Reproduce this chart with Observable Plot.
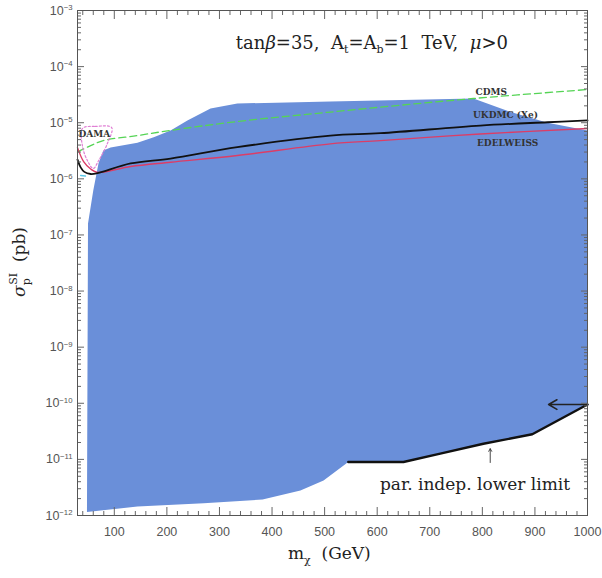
<!DOCTYPE html>
<html><head><meta charset="utf-8">
<script src="https://cdn.jsdelivr.net/npm/d3@7"></script>
<script src="https://cdn.jsdelivr.net/npm/@observablehq/plot@0.6"></script>
<style>body{margin:0;background:#fff} #chart{width:602px;height:578px}</style>
</head><body><div id="chart"></div>
<script>
// Allowed region (blue): upper boundary, lower boundary
const upperMass  = [48, 50, 60, 70, 79, 93, 144, 175, 207, 239, 283, 334, 511, 783, 859, 924, 1000];
const upperSigma = [1.15e-12, 1.6e-7, 6.2e-7, 1.9e-6, 3.2e-6, 3.6e-6, 4.4e-6, 5.5e-6, 7.3e-6, 1.1e-5, 1.8e-5, 2.2e-5, 2.4e-5, 2.7e-5, 1.5e-5, 1.0e-5, 7.3e-6];
const lowerMass  = [48, 144, 270, 382, 454, 498, 545];
const lowerSigma = [1.15e-12, 1.45e-12, 1.66e-12, 1.93e-12, 2.8e-12, 4.2e-12, 9e-12];
// Parameter-independent lower limit (thick black)
const limitMass  = [545, 650, 720, 802, 895, 1000];
const limitSigma = [9e-12, 9e-12, 1.27e-11, 1.9e-11, 2.8e-11, 9.5e-11];
// Experimental curves
const ukdmcMass  = [30, 36, 43, 55, 68, 131, 207, 334, 511, 606, 796, 924, 1000];
const ukdmcSigma = [2.2e-6, 1.6e-6, 1.33e-6, 1.22e-6, 1.26e-6, 1.88e-6, 2.3e-6, 3.66e-6, 5.9e-6, 6.5e-6, 8.9e-6, 1.02e-5, 1.1e-5];
const edelMass   = [30, 42, 55, 68, 131, 207, 334, 511, 606, 796, 1000];
const edelSigma  = [3.6e-6, 2.0e-6, 1.5e-6, 1.3e-6, 1.66e-6, 1.98e-6, 2.6e-6, 4.2e-6, 4.8e-6, 6.3e-6, 7.9e-6];
const cdmsMass   = [30, 55, 79, 144, 207, 334, 511, 783, 1000];
const cdmsSigma  = [3.0e-6, 3.9e-6, 4.8e-6, 5.9e-6, 7.3e-6, 1.05e-5, 1.55e-5, 2.7e-5, 3.9e-5];
const damaMass   = [39.5, 64, 95, 87, 70, 60, 49, 39.5];
const damaSigma  = [7.9e-6, 8.6e-6, 8.2e-6, 4.3e-6, 2.1e-6, 1.53e-6, 2.1e-6, 3.8e-6];
const cyanMass   = [36, 45];
const cyanSigma  = [1.15e-6, 1.12e-6];
// Axis ticks
const xMajor = [100, 200, 300, 400, 500, 600, 700, 800, 900, 1000];
const xMinor = d3.range(40, 1000, 20).filter(v => v % 100 !== 0);
const yExponents = [-12, -11, -10, -9, -8, -7, -6, -5, -4, -3];

const zip = (a, b) => a.map((m, i) => ({m, s: b[i]}));
const yMajor = yExponents.map(e => Math.pow(10, e));
const yMinor = yExponents.slice(0, -1).flatMap(e => d3.range(2, 10).map(k => k * Math.pow(10, e)));

const polygon = [
  ...zip(upperMass, upperSigma),
  ...zip(limitMass, limitSigma).reverse(),
  ...zip(lowerMass, lowerSigma).reverse()
];

const blue = "#6a8fd9";
const tickCol = "#666";
const serif = "'DejaVu Serif', serif";

const plot = Plot.plot({
  width: 602, height: 578,
  marginLeft: 77, marginRight: 15, marginTop: 10, marginBottom: 63,
  style: {fontFamily: "'Liberation Sans', Arial, sans-serif", fontSize: "12.5px", background: "#fff"},
  x: {type: "linear", domain: [30, 1000]},
  y: {type: "log", domain: [1e-12, 1e-3]},
  marks: [
    Plot.line(polygon, {x: "m", y: "s", fill: blue, stroke: "none", curve: "linear"}),
    Plot.line(zip(cdmsMass, cdmsSigma), {x: "m", y: "s", stroke: "#55d455", strokeWidth: 1.3, strokeDasharray: "7,4", curve: "catmull-rom"}),
    Plot.line(zip(edelMass, edelSigma), {x: "m", y: "s", stroke: "#dc3d66", strokeWidth: 1.4, curve: "catmull-rom"}),
    Plot.line(zip(ukdmcMass, ukdmcSigma), {x: "m", y: "s", stroke: "#111", strokeWidth: 1.8, curve: "catmull-rom"}),
    Plot.line(zip(damaMass, damaSigma), {x: "m", y: "s", stroke: "#e07fd4", strokeWidth: 1.2, strokeDasharray: "2,2", curve: "catmull-rom-closed"}),
    Plot.line(zip(cyanMass, cyanSigma), {x: "m", y: "s", stroke: "#5cc8e8", strokeWidth: 1.5}),
    Plot.line(zip(limitMass, limitSigma), {x: "m", y: "s", stroke: "#111", strokeWidth: 2.4, curve: "linear"}),
    Plot.arrow([{x1: 1000, x2: 926, y: 9.5e-11}], {x1: "x1", x2: "x2", y1: "y", y2: "y", stroke: "#222", strokeWidth: 1.6, headLength: 9, bend: 0}),
    Plot.arrow([{x: 815, y1: 8.8e-12, y2: 1.55e-11}], {x1: "x", x2: "x", y1: "y1", y2: "y2", stroke: "#333", strokeWidth: 0.9, headLength: 5, bend: 0}),
    Plot.text([{m: 817, s: 3.5e-5, t: "CDMS"}, {m: 844, s: 1.37e-5, t: "UKDMC (Xe)"}, {m: 848, s: 4.4e-6, t: "EDELWEISS"}, {m: 62, s: 6.2e-6, t: "DAMA"}],
      {x: "m", y: "s", text: "t", fontFamily: serif, fontSize: 9, fontWeight: "bold", fill: "#333"}),
    Plot.text([{m: 786, s: 3.5e-12, t: "par. indep. lower limit"}],
      {x: "m", y: "s", text: "t", fontFamily: serif, fontSize: 17, fill: "#222"}),
    // inward ticks
    Plot.axisY({anchor: "left", ticks: yMajor, tickSize: 7, dx: 7, fill: null, label: null, stroke: tickCol}),
    Plot.axisY({anchor: "left", ticks: yMinor, tickSize: 4, dx: 4, fill: null, label: null, stroke: tickCol}),
    Plot.axisY({anchor: "right", ticks: yMajor, tickSize: 7, dx: -7, fill: null, label: null, stroke: tickCol}),
    Plot.axisY({anchor: "right", ticks: yMinor, tickSize: 4, dx: -4, fill: null, label: null, stroke: tickCol}),
    Plot.axisX({anchor: "bottom", ticks: xMajor, tickSize: 8, dy: -8, fill: null, label: null, stroke: tickCol}),
    Plot.axisX({anchor: "bottom", ticks: xMinor, tickSize: 4, dy: -4, fill: null, label: null, stroke: tickCol}),
    Plot.axisX({anchor: "top", ticks: xMajor, tickSize: 8, dy: 8, fill: null, label: null, stroke: tickCol}),
    Plot.axisX({anchor: "top", ticks: xMinor, tickSize: 4, dy: 4, fill: null, label: null, stroke: tickCol}),
    // tick labels
    Plot.axisY({anchor: "left", ticks: yMajor, tickSize: 0, tickPadding: 5, label: null, fill: "#555",
      tickFormat: d => "10^" + Math.round(Math.log10(d))}),
    Plot.axisX({anchor: "bottom", ticks: xMajor, tickSize: 0, tickPadding: 12, label: null, fill: "#555",
      tickFormat: d => String(d)}),
    Plot.frame({stroke: "#555", strokeWidth: 1})
  ]
});

document.getElementById("chart").appendChild(plot);

const svg = d3.select(plot);
// superscript exponents on y tick labels
svg.selectAll('g[aria-label="y-axis tick label"] text').each(function() {
  const t = d3.select(this);
  const txt = t.text();
  const m = /^10\^(-?\d+)$/.exec(txt);
  if (!m) return;
  t.text("10");
  t.append("tspan").attr("dy", "-0.55em").attr("font-size", "0.62em").text(m[1].replace("-", "\u2212"));
});

const X = plot.scale("x"), Y = plot.scale("y");

// title
const title = svg.append("text")
  .attr("x", X.apply(591)).attr("y", Y.apply(2.0e-4))
  .attr("text-anchor", "middle")
  .attr("font-family", serif).attr("font-size", 18).attr("fill", "#222")
  .style("white-space", "pre");
title.append("tspan").text("tan");
title.append("tspan").attr("font-style", "italic").text("\u03b2");
title.append("tspan").text("=35,  A");
title.append("tspan").attr("font-size", 11).attr("dy", 4).text("t");
title.append("tspan").attr("dy", -4).text("=A");
title.append("tspan").attr("font-size", 11).attr("dy", 4).text("b");
title.append("tspan").attr("dy", -4).text("=1  TeV,  ");
title.append("tspan").attr("font-style", "italic").text("\u03bc");
title.append("tspan").text(">0");

// y axis label
const yl = svg.append("text")
  .attr("transform", "translate(25,262) rotate(-90)")
  .attr("text-anchor", "middle")
  .attr("font-family", serif).attr("font-size", 17).attr("fill", "#222")
  .style("white-space", "pre");
yl.append("tspan").attr("font-style", "italic").text("\u03c3");
yl.append("tspan").attr("font-size", 11).attr("dy", 5).text("p");
yl.append("tspan").attr("font-size", 11).attr("dx", -6.5).attr("dy", -13).text("SI");
yl.append("tspan").attr("dy", 8).text("  (pb)");

// x axis label
const xl = svg.append("text")
  .attr("x", X.apply(510)).attr("y", 559)
  .attr("text-anchor", "middle")
  .attr("font-family", serif).attr("font-size", 17).attr("fill", "#222")
  .style("white-space", "pre");
xl.append("tspan").text("m");
xl.append("tspan").attr("font-size", 11).attr("dy", 5).text("\u03c7");
xl.append("tspan").attr("dy", -5).text("  (GeV)");
</script>
</body></html>
